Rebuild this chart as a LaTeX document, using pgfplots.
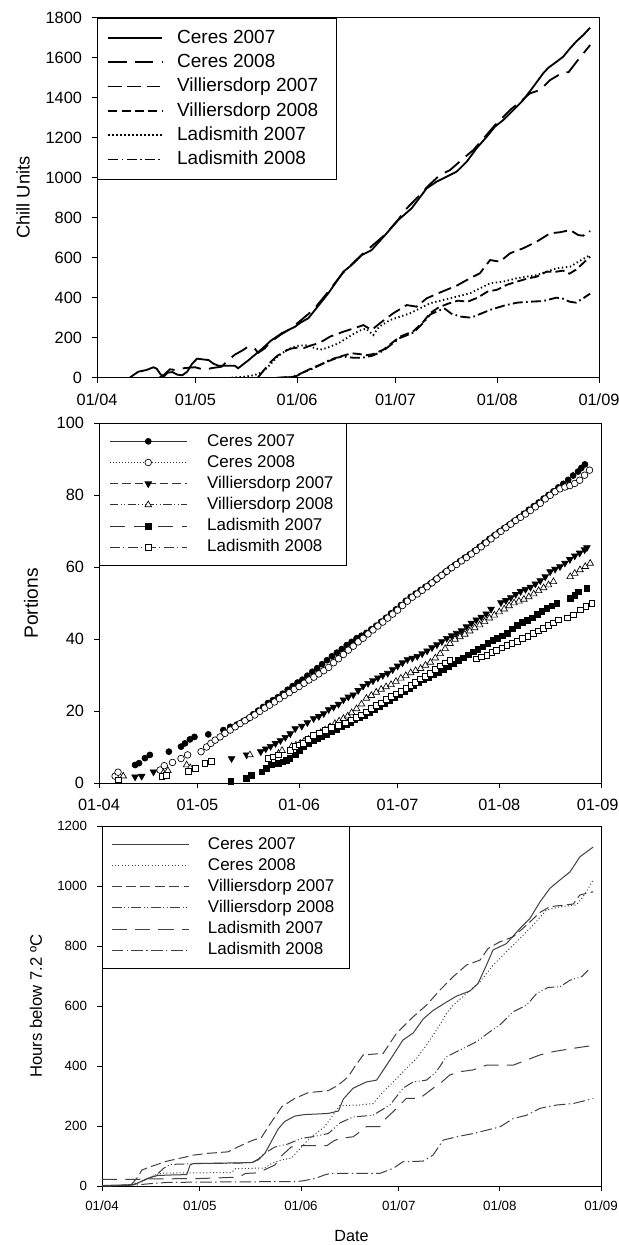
\documentclass[border=0pt]{standalone}
\usepackage{pgfplots}
\pgfplotsset{compat=1.18}
\usepackage{fontspec}
\setmainfont{Liberation Sans}
\pgfplotsset{lgd/.style={legend image code/.code={\draw[black!80, line width=0.5pt, #1] (0pt,0pt) -- (46.2pt,0pt); \draw[##1] plot coordinates {(23.1pt,0pt)};}}}
\begin{document}
\begin{tikzpicture}
\path[use as bounding box] (0pt,0pt) rectangle (371.4pt,-747pt);
\pgfplotsset{common/.style={scale only axis, xmin=0, xmax=153,
  xtick={0,30,61,91,122,153},
  tick align=outside, xtick pos=left, ytick pos=left,
  major tick length=3pt, minor tick length=1.8pt,
  axis line style={line width=0.5pt},
  every tick/.style={black, line width=0.5pt},
  /pgf/number format/assume math mode=true,
  /pgf/number format/1000 sep={},
  legend cell align=left}}

% ---------------- Panel 1: Chill Units ----------------
\begin{axis}[common, at={(58.2pt,-226.6pt)}, anchor=south west,
  width=301.2pt, height=216pt,
  ymin=0, ymax=1800, ytick={0,200,...,1800},
  xticklabels={01/04,01/05,01/06,01/07,01/08,01/09},
  minor x tick num=3,
  tick label style={font=\fontsize{9.8}{11}\selectfont},
  xticklabel style={yshift=-3pt}, yticklabel style={xshift=-2.5pt},
  ylabel={Chill Units},
  ylabel style={font=\fontsize{11}{13}\selectfont, at={(axis description cs:-0.1474,0.5)}, anchor=center},
  legend image code/.code={\draw[#1] (0pt,0pt) -- (32.4pt,0pt);},
  legend style={at={(0,1)}, anchor=north west, draw=black, fill=white,
    inner xsep=6pt, inner ysep=6.8pt, font=\fontsize{11.4}{13}\selectfont,
    nodes={inner sep=0pt, text height=8.2pt, text depth=2pt}, row sep=4.4pt,
    /tikz/every odd column/.append style={column sep=8.4pt}}]
\addplot[black, line width=1.1pt, solid] coordinates {
(10,0) (11,12) (12.6,30) (15,38) (17.2,52) (18.2,45) (19.3,18) (20.3,5) (21.5,25) (23,28) (24.5,15) (26,12) (27.5,30) (29,70) (30.5,95) (32,92) (34,88) (35.5,70) (37,60) (42,60) (43,47) (46,85) (50,140) (53,185) (56.3,222) (60.4,255) (62,275) (64.4,297) (67,350) (70.5,422) (75.1,530) (77.6,563) (80.7,613) (83.7,638) (87.8,713) (91.8,788) (95.9,847) (100.5,947) (103.5,980) (105.6,997) (109.6,1030) (112.7,1080) (115.7,1147) (118.8,1205) (121.3,1255) (123.8,1288) (126.4,1330) (129.9,1388) (133,1455) (136,1522) (137.6,1550) (140.1,1580) (142.1,1605) (144.2,1647) (146.2,1683) (148.2,1713) (150.3,1750)};
\addlegendentry{Ceres 2007}
\addplot[black, line width=1.1pt, dash pattern=on 11pt off 5pt] coordinates {
(19,0) (20.5,15) (22.2,42) (24,38) (26.3,47) (28,50) (29.9,52) (31.5,45) (33,40) (35,48) (38,55) (40,88) (42,115) (44.5,138) (46,155) (47.9,149) (49.1,124) (51,145) (53,180) (56,215) (59,245) (62,285) (66,340) (70,420) (75,525) (80.7,615) (87.8,715) (91.8,790) (94,840) (97.9,905) (101,960) (104.5,1013) (107.6,1038) (111.7,1097) (114.7,1138) (118,1200) (121.3,1263) (126,1340) (129,1380) (132,1422) (135,1438) (138.1,1488) (142.1,1527) (143.7,1527) (146.2,1580) (150.3,1663)};
\addlegendentry{Ceres 2008}
\addplot[black, line width=1.1pt, dash pattern=on 8pt off 3.5pt] coordinates {
(49,0) (51,40) (53,80) (55,110) (57,130) (59,145) (61,150) (63,148) (65,160) (67,170) (69,185) (71,205) (75.1,230) (78,245) (81.2,263) (83.7,238) (86.2,272) (90.3,322) (94.4,363) (97.4,355) (100.5,397) (105.6,433) (109.6,460) (113.7,497) (116.7,522) (119.8,588) (122.8,580) (125.9,622) (129.9,647) (134,680) (138.1,722) (141.1,727) (144.2,738) (146.7,713) (148.2,710) (150.3,733)};
\addlegendentry{Villiersdorp 2007\hspace*{5pt}}
\addplot[black, line width=1.1pt, dash pattern=on 5.5pt off 2.5pt] coordinates {
(55,0) (58,2) (60.4,5) (62.4,22) (64.5,40) (66.5,55) (68.5,68) (70.5,82) (72.5,95) (74.6,108) (77.6,122) (80,118) (82,112) (84.2,118) (87.3,140) (90,175) (92.3,205) (96.4,232) (99.5,280) (101.5,322) (104,350) (107,370) (110,385) (113,380) (116,400) (119,430) (122,440) (125,465) (128,480) (131,495) (134,505) (137,530) (140,530) (142,535) (144,520) (146,540) (148,570) (150.3,605)};
\addlegendentry{Villiersdorp 2008}
\addplot[black, line width=1.1pt, dash pattern=on 0.8pt off 1.6pt] coordinates {
(41,0) (44,3) (47,10) (49,18) (51,35) (53,70) (55,105) (57.8,138) (59.5,150) (61.4,160) (64.4,163) (66,150) (68,140) (70,148) (73.6,172) (77.6,213) (80,235) (82,245) (84.2,213) (86,255) (89.3,288) (95.4,322) (101.5,372) (107.6,397) (113.7,422) (119.8,472) (123.8,480) (127.9,497) (134,513) (140.1,547) (144.2,555) (146.7,580) (150.3,613)};
\addlegendentry{Ladismith 2007}
\addplot[black, line width=1.1pt, dash pattern=on 6pt off 2pt on 1pt off 2pt] coordinates {
(56,0) (59,3) (61,12) (63,28) (65,40) (67,55) (69,72) (71,90) (73,100) (75,105) (78,100) (81,100) (84,110) (87.3,135) (90,170) (92.3,198) (96.4,225) (99.5,275) (101.5,315) (104,335) (106,345) (108,320) (111,305) (114,300) (117,320) (120,340) (124,360) (128,375) (132,380) (136,383) (140,400) (142,395) (144,380) (146,375) (148,395) (150.3,420)};
\addlegendentry{Ladismith 2008}
\end{axis}

% ---------------- Panel 2: Portions ----------------
\begin{axis}[common, at={(59.4pt,-470pt)}, anchor=south west,
  width=301.2pt, height=216pt,
  ymin=0, ymax=100, ytick={0,20,...,100},
  xticklabels={01-04,01-05,01-06,01-07,01-08,{\hspace*{-4pt}01-09}},
  tick label style={font=\fontsize{9.8}{12}\selectfont},
  xticklabel style={yshift=-3pt}, yticklabel style={xshift=-2.5pt},
  ylabel={Portions},
  ylabel style={font=\fontsize{11.5}{13}\selectfont, at={(axis description cs:-0.1355,0.5)}, anchor=center},
  legend style={at={(0,1)}, anchor=north west, draw=black, fill=white,
    inner xsep=6pt, inner ysep=6pt, font=\fontsize{10.2}{12}\selectfont,
    nodes={inner sep=0pt, text height=7.4pt, text depth=1.8pt}, row sep=3.5pt,
    /tikz/every odd column/.append style={column sep=12pt}}]
\addplot[only marks, mark=*, mark size=1.8pt, mark options={fill=black, draw=black, line width=0.4pt},
  lgd={solid}] coordinates {
(11,5.1) (12.2,5.6) (14,7.0) (15.5,7.9) (21.3,8.8) (25,10.2) (26.2,11.1) (27.7,12.2) (29.1,12.9) (33.3,13.6) (37.9,14.8) (40,15.7) (42,16.3) (44,17.3) (45.5,18.0) (47,19.2) (48.5,20.2) (50,21.2) (51.5,22.3) (53,23.1) (54.5,23.9) (56,24.9) (57.5,26.0) (59,27.0) (60.5,28.0) (62,28.8) (63.5,29.9) (65,31.0) (66.5,32.0) (68,33.1) (69.5,34.2) (71,35.3) (72.5,36.3) (74,37.3) (75.5,38.4) (77,39.3) (78.5,40.3) (80,41.0) (81.5,41.8) (83,42.8) (84.5,43.8) (86,44.9) (87.5,46.0) (89,47.2) (90.5,48.3) (92,49.5) (93.5,50.7) (95,51.8) (96.5,52.7) (98,53.7) (99.5,54.6) (101,55.5) (102.5,56.5) (104,57.5) (105.5,58.6) (107,59.7) (108.5,60.7) (110,61.7) (111.5,62.7) (113,63.6) (114.5,64.6) (116,65.7) (117.5,66.8) (119,67.9) (120.5,68.9) (122,69.9) (123.5,70.9) (125,71.8) (126.5,72.8) (128,73.8) (129.5,74.9) (131,76.0) (132.5,77.0) (134,78.0) (135.5,79.1) (137,80.1) (138.5,81.1) (140,82.2) (141.5,83.2) (143,84.3) (144.5,85.5) (146,86.6) (147,87.6) (148.1,88.6)};
\addlegendentry{Ceres 2007}
\addplot[only marks, mark=*, mark size=2pt, mark options={fill=white, draw=black, line width=0.4pt},
  lgd={dash pattern=on 0.6pt off 1.2pt}] coordinates {
(4.9,2.0) (5.8,3.1) (18.6,3.7) (19.9,4.9) (22.4,5.8) (25,6.9) (27,7.9) (31.1,8.8) (32.8,10.1) (34.1,11.1) (35.4,12.0) (36.9,12.9) (38.4,13.9) (40,14.8) (41.5,15.7) (43,16.6) (44.5,17.4) (46,18.3) (47.5,19.0) (49,20.0) (50.5,20.9) (52,21.7) (53.5,22.6) (55,23.5) (56.5,24.4) (58,25.2) (59.5,26.1) (61,26.9) (62.5,27.8) (64,28.7) (65.5,29.5) (67,30.4) (68.5,31.3) (70,32.2) (71.5,33.5) (73,34.6) (74.5,35.8) (76,37.0) (77.5,38.1) (79,39.3) (80.5,40.3) (82,41.5) (83.5,42.6) (85,43.7) (86.5,44.8) (88,45.9) (89.5,47.0) (91,48.1) (92.5,49.4) (94,50.6) (95.5,51.7) (97,52.6) (98.5,53.6) (100,54.6) (101.5,55.7) (103,56.8) (104.5,57.8) (106,58.9) (107.5,59.9) (109,60.8) (110.5,61.8) (112,62.7) (113.5,63.7) (115,64.7) (116.5,65.7) (118,66.8) (119.5,67.9) (121,69.0) (122.5,70.0) (124,71.0) (125.5,72.0) (127,73.0) (128.5,73.9) (130,74.8) (131.5,75.8) (133,76.8) (134.5,77.8) (136,79.0) (137.5,80.0) (139,81.0) (140.5,81.8) (142,82.3) (143.5,82.7) (145,83.3) (146.5,84.2) (148,85.6) (149.5,87.0)};
\addlegendentry{Ceres 2008}
\addplot[only marks, mark=triangle*, mark size=2.3pt, mark options={fill=black, draw=black, line width=0.4pt, rotate=180},
  lgd={dash pattern=on 5pt off 2.5pt}] coordinates {
(11,1.8) (13,2.0) (16.6,3.2) (40.4,6.9) (45,7.9) (49.3,8.8) (50.8,9.6) (52.3,10.3) (53.8,11.1) (55.3,11.9) (56.8,12.8) (58.3,13.8) (59.8,15.2) (61.8,15.9) (63.5,16.9) (65.4,18.0) (67,18.6) (68.5,19.4) (70,20.5) (71.5,21.2) (73,22.0) (74.5,23.2) (76,24.0) (77.5,24.6) (79,25.8) (80.5,27.0) (82,27.8) (83.5,28.5) (85,29.3) (86.5,30.0) (88,30.6) (89.5,31.6) (91,32.6) (92.5,33.5) (94,34.4) (95.5,34.8) (97,35.3) (98.5,36.0) (100,36.8) (101.5,37.7) (103,38.5) (104.5,39.4) (106,40.3) (107.5,41.0) (109,41.7) (110.5,42.4) (112,43.5) (113.5,44.5) (115,45.4) (116.5,46.2) (118,47.1) (119.5,48.4) (122.5,50.2) (124,50.8) (125.5,51.6) (127,52.5) (128.5,53.3) (130,53.9) (131.5,54.5) (133,55.4) (134.5,56.3) (136,57.4) (137.5,58.8) (139,59.5) (140.5,60.2) (142,61.2) (143.5,62.2) (145,63.2) (146.5,64.0) (148,64.9) (148.7,65.5)};
\addlegendentry{Villiersdorp 2007\hspace*{1.5pt}}
\addplot[only marks, mark=triangle*, mark size=2.3pt, mark options={fill=white, draw=black, line width=0.4pt},
  lgd={dash pattern=on 5pt off 1.5pt on 0.6pt off 1.5pt on 0.6pt off 1.5pt}] coordinates {
(7.4,2.0) (19.6,2.9) (21,3.5) (26.7,5.1) (27.8,4.3) (46,7.9) (54.7,8.3) (55.8,9.1) (58.7,10.2) (60,10.6) (61.3,11.1) (62.5,11.7) (63.8,12.2) (65,12.8) (66.4,13.4) (67.6,14.1) (68.9,14.8) (70.4,15.7) (71.9,16.6) (73.2,17.3) (74.5,18.0) (75.8,18.7) (77,19.6) (78.5,20.7) (80,22.0) (81.5,23.6) (83,24.4) (84.5,25.3) (86,26.1) (87.5,26.8) (89,27.4) (90.5,28.3) (92,29.2) (93.5,29.9) (95,30.7) (96.5,31.3) (98,31.9) (99.5,32.8) (101,33.6) (102.5,34.8) (104,36.0) (105.5,37.4) (107,38.8) (108.5,40.0) (110,40.7) (111.5,41.4) (113,42.3) (114.5,43.2) (116,44.0) (117.5,44.9) (119,45.9) (120.5,46.7) (122,47.6) (123.5,48.4) (125,49.3) (126.5,50.1) (128,50.6) (129.5,51.1) (131,51.8) (132.5,52.6) (134,53.5) (135.5,54.3) (137,55.1) (138.5,56.0) (143.6,57.4) (145,58.3) (146.6,59.3) (148.2,60.2) (149.7,61.1)};
\addlegendentry{Villiersdorp 2008}
\addplot[only marks, mark=square*, mark size=1.7pt, mark options={fill=black, draw=black, line width=0.4pt},
  lgd={dash pattern=on 9pt off 5.5pt}] coordinates {
(40.2,0.6) (45,1.4) (46.5,2.3) (49.6,3.2) (51,4.1) (52.6,5.1) (54.7,5.6) (56,6.0) (57,6.4) (58.2,7.0) (59.8,7.9) (61,9.0) (62.3,10.2) (63.8,11.0) (65.4,12.0) (66.7,12.5) (67.9,13.0) (69.4,13.7) (70.9,14.4) (72.4,15.0) (74,15.7) (75.3,16.4) (76.5,16.9) (78,17.6) (79.5,18.2) (81,18.8) (82.5,19.7) (84,20.5) (85.5,21.3) (87,22.2) (88.5,23.0) (90,23.8) (91.5,24.7) (93,25.5) (94.5,26.3) (96,27.1) (97.5,28.0) (99,28.8) (100.5,29.5) (102,30.2) (103.5,30.8) (105,31.7) (106.5,32.4) (108,33.2) (109.5,34.1) (111,34.9) (112.5,35.7) (114,36.5) (115.5,37.2) (117,37.9) (118.5,38.8) (120,39.7) (121.5,40.3) (123,41.0) (124.5,41.7) (126,42.9) (127.5,43.9) (129,44.7) (130.5,45.3) (132,46.0) (133.5,46.9) (135,47.7) (136.5,48.6) (138,49.3) (139.5,50.0) (143.6,51.4) (145,52.2) (146.1,53.2) (148.7,54.2)};
\addlegendentry{Ladismith 2007}
\addplot[only marks, mark=square*, mark size=1.7pt, mark options={fill=white, draw=black, line width=0.4pt},
  lgd={dash pattern=on 6pt off 2pt on 0.8pt off 2pt}] coordinates {
(5.8,1.0) (19.1,2.0) (20.6,2.3) (27.2,3.3) (29.3,4.2) (32.3,5.5) (34.3,6.2) (51.6,6.9) (53,7.4) (54.7,7.9) (58.3,9.2) (59.8,10.2) (61,10.7) (62.3,11.1) (63.8,12.2) (65.4,13.4) (67.1,14.0) (68.9,14.8) (70.9,15.5) (73,16.2) (75,16.8) (77,17.6) (78.5,18.3) (80,19.0) (81.5,19.9) (83,20.8) (84.5,21.6) (86,22.4) (87.5,23.3) (89,24.1) (90.5,24.9) (92,25.6) (93.5,26.3) (95,27.2) (96.5,28.1) (98,29.0) (99.5,29.7) (101,30.6) (102.5,31.6) (104,32.6) (105.5,33.5) (106.9,34.2) (115.1,34.6) (116.6,35.1) (118.2,35.6) (119.7,36.3) (121.2,37.0) (122.8,37.6) (124.3,38.3) (125.8,38.9) (127.4,39.5) (129,40.2) (130.7,40.9) (132.4,41.6) (134,42.4) (135.5,43.1) (136.9,43.8) (138.5,44.6) (140,45.4) (142.8,46.0) (144.5,46.8) (146.6,48.2) (148.4,49.1) (150.2,50.0)};
\addlegendentry{Ladismith 2008}
\end{axis}

% ---------------- Panel 3: Hours below 7.2 C ----------------
\begin{axis}[common, at={(61.2pt,-711.6pt)}, anchor=south west,
  width=299.4pt, height=216pt,
  ymin=0, ymax=1200, ytick={0,200,...,1200},
  xticklabels={01/04,01/05,01/06,01/07,01/08,01/09},
  minor x tick num=3,
  tick label style={font=\fontsize{8}{9.6}\selectfont},
  xticklabel style={yshift=-2.5pt}, yticklabel style={xshift=-2.5pt},
  ylabel={Hours below 7.2 ºC},
  ylabel style={font=\fontsize{10}{12}\selectfont, at={(axis description cs:-0.1323,0.5)}, anchor=center},
  xlabel={Date},
  xlabel style={font=\fontsize{9.7}{11}\selectfont, at={(axis description cs:0.5,-0.139)}, anchor=center},
  legend image code/.code={\draw[#1] (0pt,0pt) -- (46pt,0pt);},
  legend style={at={(0,1)}, anchor=north west, draw=black, fill=white,
    inner xsep=5.4pt, inner ysep=6.2pt, font=\fontsize{10.2}{12}\selectfont,
    nodes={inner sep=0pt, text height=7.4pt, text depth=1.8pt}, row sep=3.5pt,
    /tikz/every odd column/.append style={column sep=11.4pt}}]
\addplot[black!75, line width=0.6pt, solid] coordinates {
(0,2) (5,3) (10,5) (12,15) (14,25) (17,35) (22,37) (26,38) (27,70) (28,75) (35,76) (40,77) (45.9,78) (48,88) (50,110) (52,150) (54,190) (56,215) (59.1,233) (62,238) (66,240) (69.4,242) (72.5,250) (74,290) (77,326) (81.1,347) (84.2,353) (88.3,420) (92.3,487) (95.4,510) (98.5,557) (101.5,585) (105.6,613) (108.7,633) (112.8,650) (115.3,675) (117.9,737) (119.9,787) (124,808) (128.1,858) (131.2,892) (134.3,947) (137.3,992) (140.4,1020) (143.5,1047) (146.5,1097) (150.6,1130)};
\addlegendentry{Ceres 2007}
\addplot[black!75, line width=0.6pt, dash pattern=on 0.6pt off 1.4pt] coordinates {
(0,0) (8,2) (12.2,15) (15,30) (18.3,43) (30,44) (39.7,45) (41,58) (49.9,60) (52,75) (55,87) (58.1,93) (61.2,131) (64.2,164) (68.3,198) (72.9,268) (79,270) (83.1,275) (86.2,314) (90.3,358) (93.3,392) (96.4,425) (99.5,470) (103.6,537) (105.6,575) (107.7,603) (111.8,642) (115.9,681) (120,737) (124,781) (128.1,825) (132.2,870) (136.3,920) (140.4,931) (145.5,937) (147.5,964) (149.1,992) (150.6,1020)};
\addlegendentry{Ceres 2008}
\addplot[black!75, line width=0.6pt, dash pattern=on 6pt off 2.6pt] coordinates {
(0,0) (6,2) (9,5) (11,30) (12.2,53) (14.7,64) (17,72) (19.3,81) (22.4,89) (25.4,96) (28,103) (32.6,109) (38.7,114) (41.8,131) (45.9,151) (48.9,162) (51,198) (55.1,264) (59.1,292) (63.2,311) (69.4,318) (72.4,336) (75.5,364) (77.5,398) (80.1,437) (86.2,442) (90.3,509) (95.4,564) (99.5,603) (103.6,653) (107.7,698) (111.8,737) (115.9,753) (118.4,792) (122,814) (126.1,831) (130.2,870) (134.3,912) (137.3,931) (144.5,940) (146.5,970) (150.6,981)};
\addlegendentry{Villiersdorp 2007\hspace*{3.6pt}}
\addplot[black!75, line width=0.6pt, dash pattern=on 6pt off 1.5pt on 0.6pt off 1.5pt on 0.6pt off 1.5pt] coordinates {
(0,0) (8,2) (11,10) (13,20) (15,30) (17,40) (19,60) (21,72) (30,75) (40,76) (46,78) (48,90) (50,110) (53,130) (57,140) (61.2,159) (65,165) (69.4,175) (72.9,210) (77,230) (83.1,236) (88.3,270) (92.3,326) (95.4,347) (99.5,353) (102.5,381) (105.6,431) (109.7,453) (114.8,481) (118.9,514) (122,537) (126.1,581) (130.2,603) (133.3,642) (136.8,662) (140.4,664) (143.5,686) (147.1,698) (149.6,725)};
\addlegendentry{Villiersdorp 2008}
\addplot[black!75, line width=0.6pt, dash pattern=on 9pt off 5pt] coordinates {
(0,22) (11,22) (13,24) (20,24) (30,25) (38,28) (42,30) (44,42) (48,44) (50,55) (53,70) (55,100) (58,130) (61,135) (66,135) (69,135) (71,150) (72.9,159) (77,164) (79,180) (81.1,198) (85.2,198) (87,225) (89.3,248) (93.3,292) (97.4,292) (101.5,326) (104,345) (106.6,370) (109.7,381) (113.8,387) (117.9,403) (126.1,403) (130.2,420) (134.3,437) (138.4,448) (144.5,459) (149.6,467)};
\addlegendentry{Ladismith 2007}
\addplot[black!75, line width=0.6pt, dash pattern=on 7pt off 2pt on 0.8pt off 2pt] coordinates {
(0,0) (10,3) (15,8) (20,12) (30,13) (45,14) (60,15) (62,18) (65.3,25) (68.3,37) (70,42) (85.2,42) (89.3,59) (92.3,81) (98.5,83) (101.5,103) (104.6,153) (108.7,164) (113.8,175) (117.9,186) (122,197) (126.1,225) (130.2,236) (134.3,259) (139.4,270) (144.5,275) (148.6,286) (150.6,292)};
\addlegendentry{Ladismith 2008}
\end{axis}
\end{tikzpicture}
\end{document}
